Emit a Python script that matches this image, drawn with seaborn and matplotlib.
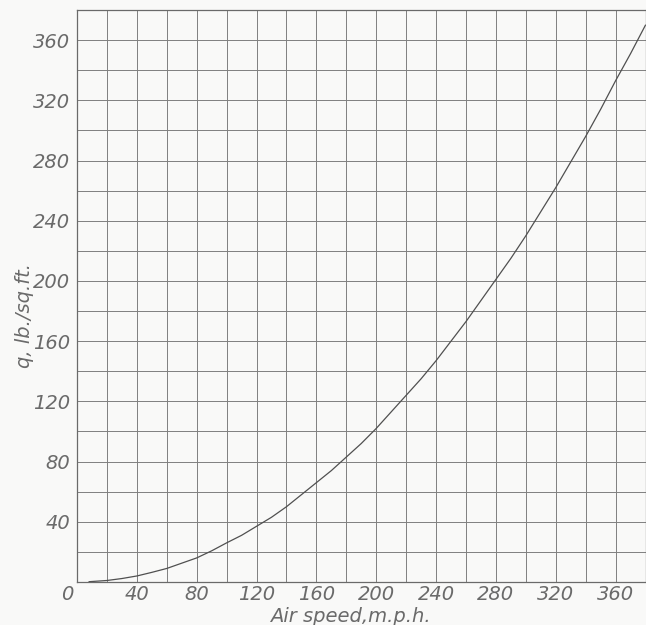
import matplotlib
matplotlib.use("Agg")
import matplotlib.pyplot as plt
import seaborn as sns
import pandas as pd
from matplotlib.ticker import MultipleLocator
import matplotlib.transforms as mtrans

# Data
air_speed = [8, 20, 30, 40, 50, 60, 70, 80, 90, 100, 110, 120, 130, 140, 150, 160, 170, 180, 190,
             200, 210, 220, 230, 240, 250, 260, 270, 280, 290, 300, 310, 320, 330, 340, 350, 360, 370, 380]
q_values = [0.2, 1, 2.3, 4, 6.4, 9, 12.5, 16, 20.7, 26, 31, 37, 43, 50, 58, 66, 74, 83, 92,
            102, 113, 124, 135, 147, 160, 173, 187, 201, 215, 230, 246, 262, 279, 296, 314, 333, 351, 370]
x_ticks = [40, 80, 120, 160, 200, 240, 280, 320, 360]
y_ticks = [40, 80, 120, 160, 200, 240, 280, 320, 360]

df = pd.DataFrame({"speed": air_speed, "q": q_values})

sns.set_theme(style="white")
plt.rcParams['font.family'] = ['DejaVu Sans']

ink = "#6a6a6a"
bg = "#f9f9f8"
fig = plt.figure(figsize=(6.46, 6.25), dpi=100, facecolor=bg)
ax = fig.add_axes([77/646, 43/625, (645.5-77)/646, (582-10)/625])
ax.set_facecolor(bg)

sns.lineplot(data=df, x="speed", y="q", ax=ax, color="#505050", linewidth=0.9)

ax.set_xlim(0, 380)
ax.set_ylim(0, 380)
ax.xaxis.set_minor_locator(MultipleLocator(20))
ax.yaxis.set_minor_locator(MultipleLocator(20))
ax.set_xticks(x_ticks)
ax.set_yticks(y_ticks)
ax.set_xticklabels([str(v) for v in x_ticks])
ax.set_yticklabels([str(v) for v in y_ticks])
ax.grid(True, which="both", color="#808080", linewidth=0.7)
ax.set_axisbelow(True)
for s in ax.spines.values():
    s.set_color("#6a6a6a")
    s.set_linewidth(0.9)

fstyle = dict(fontsize=14, fontstyle="italic", color=ink)
ax.tick_params(axis="both", which="both", length=0, labelsize=14, labelcolor=ink)
ax.tick_params(axis="x", pad=2)
ax.tick_params(axis="y", pad=5)
for lab in ax.get_xticklabels() + ax.get_yticklabels():
    lab.set_fontstyle("italic")

ax.set_xlabel("")
ax.set_ylabel("")
# corner zero label
off = mtrans.offset_copy(ax.transData, fig=fig, x=-10, y=-12, units="dots")
ax.text(0, 0, "0", transform=off, ha="center", va="center", **fstyle)

fig.text(350/646, 1 - 616/625, "Air speed,m.p.h.", ha="center", va="center", **fstyle)
fig.text(24/646, 1 - 315/625, "q, lb./sq.ft.", ha="center", va="center", rotation=90, **fstyle)

fig.savefig("out.png", dpi=100, facecolor=bg)
